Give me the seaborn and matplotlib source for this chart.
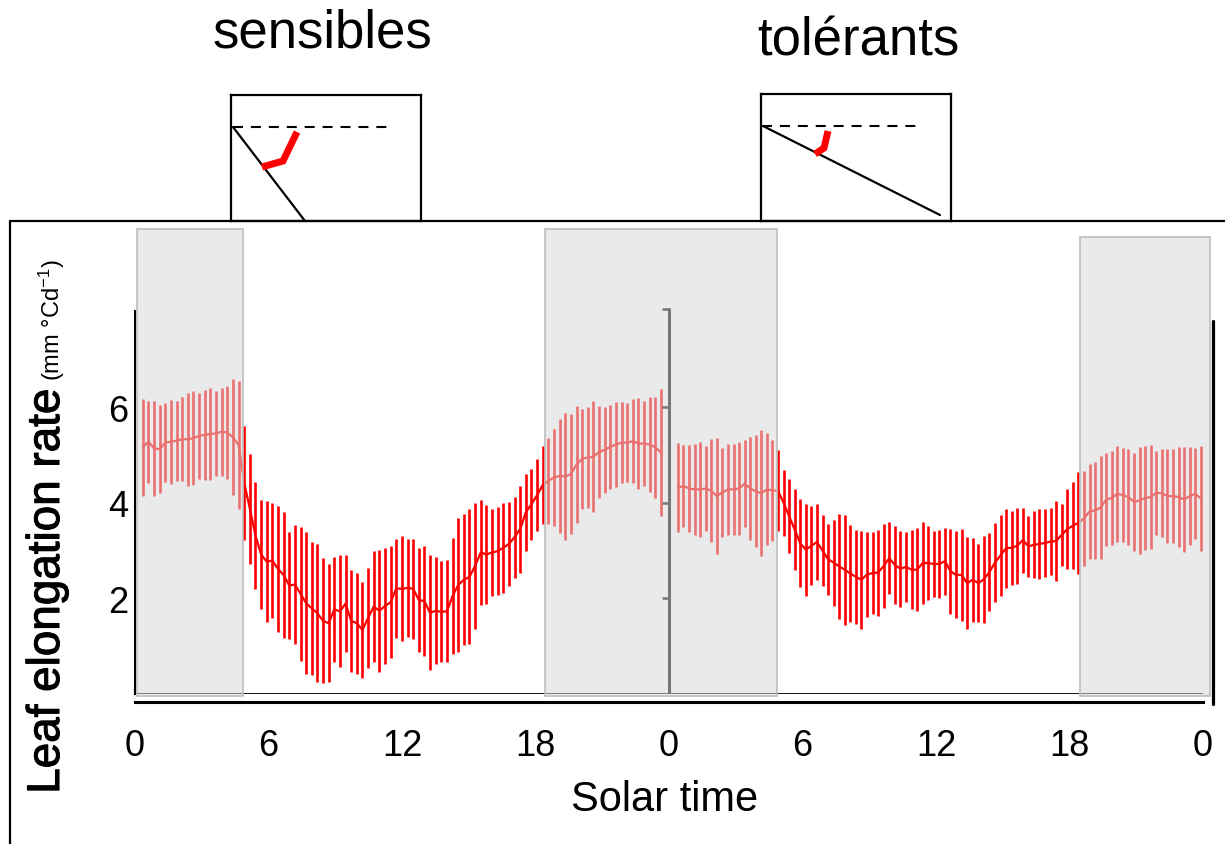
import numpy as np
import pandas as pd
import matplotlib
matplotlib.use("Agg")
import matplotlib.pyplot as plt
import matplotlib.patheffects as pe
import seaborn as sns
from matplotlib.patches import Rectangle
from matplotlib.lines import Line2D

# ---------------- data ----------------
x_tick_hours = [0, 6, 12, 18, 24, 30, 36, 42, 48]
x_tick_labels = ["0", "6", "12", "18", "0", "6", "12", "18", "0"]
y_ticks = [2, 4, 6]
y_tick_labels = ["2", "4", "6"]

# sensibles (left day, 15-min steps)
left_mean = [5.16, 5.28, 5.14, 5.12, 5.26, 5.28, 5.30, 5.33, 5.33, 5.35, 5.40, 5.42, 5.44, 5.45, 5.49, 5.47, 5.37, 5.21,
             4.42, 3.88, 3.32, 2.92, 2.77, 2.79, 2.62, 2.49, 2.27, 2.29, 2.10, 1.90, 1.79, 1.69, 1.53, 1.48, 1.77, 1.73,
             1.89, 1.53, 1.48, 1.34, 1.59, 1.83, 1.74, 1.84, 1.92, 2.21, 2.20,
             2.22, 2.20, 1.97, 1.94, 1.70, 1.74, 1.72, 1.73, 2.05, 2.28, 2.39, 2.45, 2.68, 2.96, 2.92, 2.96, 2.99, 3.06,
             3.14, 3.28, 3.45, 3.80, 3.97, 4.16, 4.37,
             4.46, 4.53, 4.56, 4.55, 4.60, 4.80, 4.92, 4.95, 4.96, 5.06, 5.11, 5.17, 5.22, 5.26, 5.26, 5.29, 5.24, 5.24,
             5.22, 5.16, 5.05]
left_sd = [1.02, 0.86, 1.00, 0.92, 0.82, 0.88, 0.84, 0.88, 0.97, 0.98, 0.90, 0.94, 0.96, 0.88, 0.92, 0.98, 1.21, 1.34,
           1.19, 1.15, 1.12, 1.14, 1.26, 1.20, 1.32, 1.32, 1.12, 1.24, 1.40, 1.48, 1.39, 1.44, 1.31, 1.23, 1.10, 1.17,
           1.01, 1.07, 1.06, 1.01, 1.05, 1.16, 1.27, 1.21, 1.17, 1.04, 1.10,
           1.02, 1.05, 1.09, 1.15, 1.20, 1.12, 1.06, 1.07, 1.21, 1.40, 1.37, 1.41, 1.32, 1.09, 1.03, 0.90, 0.92, 0.94,
           0.88, 0.85, 0.91, 0.80, 0.74, 0.75, 0.81,
           0.90, 1.02, 1.19, 1.32, 1.25, 1.23, 1.04, 1.05, 1.16, 0.97, 0.90, 0.88, 0.88, 0.84, 0.82, 0.88, 0.96, 0.88,
           1.00, 1.06, 1.33]

# tolérants (right day, 15-min steps)
right_mean = [4.32, 4.35, 4.30, 4.28, 4.28, 4.30, 4.25, 4.14, 4.22, 4.28, 4.28, 4.30, 4.40, 4.30, 4.24, 4.20, 4.28, 4.26,
              4.25, 4.00, 3.72, 3.44, 3.15, 3.02, 3.10, 3.18, 3.00, 2.82, 2.75, 2.67, 2.60, 2.52, 2.45, 2.39, 2.50,
              2.53, 2.54, 2.68, 2.84, 2.70, 2.62, 2.66, 2.60, 2.60, 2.74, 2.74, 2.72, 2.72,
              2.78, 2.57, 2.49, 2.49, 2.32, 2.39, 2.32, 2.40, 2.55, 2.75, 2.90, 3.05, 3.06, 3.10, 3.22, 3.09, 3.12,
              3.14, 3.16, 3.19, 3.20, 3.33, 3.45, 3.52, 3.58,
              3.67, 3.82, 3.84, 3.90, 4.07, 4.10, 4.19, 4.16, 4.12, 4.02, 4.05, 4.10, 4.12, 4.21, 4.20, 4.14, 4.14,
              4.12, 4.07, 4.14, 4.19, 4.09]
right_sd = [0.93, 0.85, 0.91, 0.95, 1.00, 0.89, 1.08, 1.21, 0.93, 0.95, 0.95, 0.98, 0.91, 1.08, 1.17, 1.32, 1.17, 1.05,
            0.85, 0.69, 0.77, 0.84, 0.92, 0.96, 0.83, 0.80, 0.75, 0.74, 0.90, 1.10, 1.15, 1.02, 0.98, 1.02, 0.89,
            0.85, 0.90, 0.88, 0.75, 0.81, 0.80, 0.73, 0.83, 0.87, 0.86, 0.77, 0.70, 0.72,
            0.70, 0.89, 0.91, 0.96, 0.96, 0.88, 0.81, 0.91, 0.81, 0.83, 0.85, 0.83, 0.77, 0.79, 0.68, 0.64, 0.70,
            0.73, 0.71, 0.70, 0.83, 0.65, 0.83, 0.91, 1.06,
            1.00, 0.99, 1.02, 1.07, 0.98, 0.98, 1.00, 0.98, 1.00, 1.02, 1.12, 1.08, 1.08, 0.88, 0.92, 0.98, 0.98,
            1.05, 1.10, 1.02, 0.95, 1.10]

left_hours = np.linspace(0.35, 23.64, len(left_mean))
right_hours = np.linspace(24.40, 47.90, len(right_mean))

# night (grey) periods, in hours on the two-day axis
night_start = [0.09, 18.43, 42.47]
night_end = [4.85, 28.85, 48.30]

# schematic insets (relative box coordinates, y downward)
sens_dash = ([2, 161], [32, 32])
sens_line = ([2, 74], [32, 126])
sens_red = ([31, 52, 66], [72, 66, 37])
tol_dash = ([1, 160], [32, 32])
tol_line = ([2, 179], [32, 121])
tol_red = ([54, 63, 67], [60, 54, 37])

# ---------------- style ----------------
sns.set_theme(style="white")
plt.rcParams["font.family"] = ["Liberation Sans", "DejaVu Sans"]
plt.rcParams["mathtext.fontset"] = "custom"
plt.rcParams["mathtext.rm"] = "Liberation Sans"
plt.rcParams["mathtext.default"] = "regular"
plt.rcParams["text.color"] = "black"
plt.rcParams["axes.labelcolor"] = "black"

W, H = 1225, 845
PXU = 47.8      # pixels per y unit
def fx(p): return p / W
def fy(p): return 1 - p / H

fig = plt.figure(figsize=(W / 100, H / 100), dpi=100)
fig.patch.set_facecolor("white")

ax = fig.add_axes([fx(135), fy(695), (1203 - 135) / W, (695 - 230) / H])
ax.set_facecolor("none")
ymax = (695 - 230) / PXU
ax.set_xlim(0, 48)
ax.set_ylim(0, ymax)

df = pd.concat([
    pd.DataFrame({"hour": left_hours, "rate": left_mean, "sd": left_sd, "group": "sensibles"}),
    pd.DataFrame({"hour": right_hours, "rate": right_mean, "sd": right_sd, "group": "tolérants"}),
], ignore_index=True)

sns.lineplot(data=df, x="hour", y="rate", hue="group",
             palette={"sensibles": "#FF0000", "tolérants": "#FF0000"},
             linewidth=1.6, legend=False, ax=ax, zorder=2)
ax.vlines(df["hour"], df["rate"] - df["sd"], df["rate"] + df["sd"],
          color="#FF0000", linewidth=1.9, zorder=2)

# zero line (under the grey overlays)
ax.axhline(0, color="black", linewidth=2.0, zorder=1.5)

# grey night boxes drawn as translucent overlays
tops = [ymax, ymax, (695 - 238) / PXU]
for s, e, t in zip(night_start, night_end, tops):
    ax.add_patch(Rectangle((s, -2 / PXU), e - s, t + 2 / PXU,
                           facecolor=(216 / 255, 216 / 255, 216 / 255, 0.52),
                           edgecolor="#BDBDBD", linewidth=1.2, zorder=3, clip_on=False))

# second panel y axis (grey) at midnight
top2 = (695 - 310) / PXU
ax.axvline(24, ymin=0, ymax=top2 / ymax, color="#777777", linewidth=2.2, zorder=4)
ax.hlines(y_ticks + [top2], 24 - 0.3, 24, color="#777777", linewidth=1.8, zorder=4)

# axes styling
for side in ["top", "right"]:
    ax.spines[side].set_visible(False)
ax.spines["left"].set_bounds(0, (695 - 312) / PXU)
ax.spines["left"].set_color("black")
ax.spines["left"].set_linewidth(1.5)
ax.spines["bottom"].set_position(("outward", 5.8))
ax.spines["bottom"].set_bounds(0, 48)
ax.spines["bottom"].set_color("black")
ax.spines["bottom"].set_linewidth(2.2)

ax.set_xticks(x_tick_hours)
ax.set_xticklabels(x_tick_labels)
ax.set_yticks(y_ticks)
ax.set_yticklabels(y_tick_labels)
ax.tick_params(axis="x", direction="out", length=6, width=2, labelsize=26, pad=13, colors="black")
ax.tick_params(axis="y", direction="out", length=4, width=1.5, labelsize=26, pad=1, colors="black")
ax.set_xlabel("")
ax.set_ylabel("")

# axis titles
fig.text(fx(665), fy(800), "Solar time", ha="center", va="center", fontsize=30, color="black")
fig.text(fx(59), fy(592), "Leaf elongation rate", rotation=90, rotation_mode="anchor",
         ha="center", va="baseline", fontsize=33, color="black",
         path_effects=[pe.withStroke(linewidth=0.8, foreground="black")])
fig.text(fx(60), fy(320), "(mm °Cd$^{-1}$)", rotation=90, rotation_mode="anchor",
         ha="center", va="baseline", fontsize=17, color="black")

# panel titles
fig.text(fx(322), fy(47), "sensibles", ha="center", va="baseline", fontsize=38, color="black")
fig.text(fx(858), fy(55), "tolérants", ha="center", va="baseline", fontsize=38, color="black")

# outer frame and right line
fig.add_artist(Line2D([fx(10), fx(10)], [fy(222), fy(850)], color="black", linewidth=1.6))
fig.add_artist(Line2D([fx(10), fx(1230)], [fy(222), fy(222)], color="black", linewidth=1.6))
fig.add_artist(Line2D([fx(1213), fx(1213)], [fy(322), fy(705)], color="black", linewidth=2.3))

# schematic insets
def inset(x0, y0, x1, y1, dash, line, red):
    a = fig.add_axes([fx(x0), fy(y1), (x1 - x0) / W, (y1 - y0) / H])
    a.set_xlim(0, x1 - x0)
    a.set_ylim(y1 - y0, 0)
    a.set_xticks([]); a.set_yticks([])
    a.set_facecolor("white")
    for sp in a.spines.values():
        sp.set_color("black"); sp.set_linewidth(1.6)
    a.plot(dash[0], dash[1], color="black", linewidth=1.5, linestyle=(0, (4.8, 3.8)))
    a.plot(line[0], line[1], color="black", linewidth=1.6)
    a.plot(red[0], red[1], color="#FF0000", linewidth=5, solid_capstyle="butt", solid_joinstyle="miter")

inset(231, 96, 421, 222, sens_dash, sens_line, sens_red)
inset(761, 95, 951, 222, tol_dash, tol_line, tol_red)

fig.savefig("out.png", dpi=100)
